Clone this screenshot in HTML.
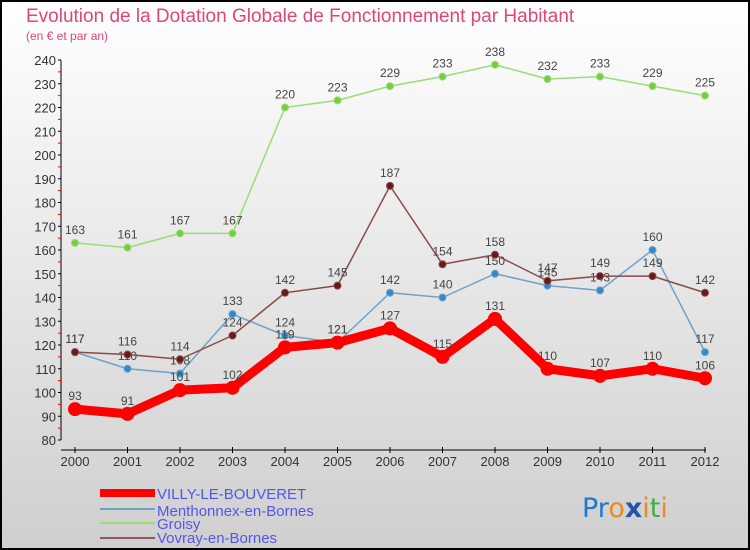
<!DOCTYPE html>
<html><head><meta charset="utf-8"><style>
body{margin:0}
#c{width:750px;height:550px;position:relative;overflow:hidden;font-family:"Liberation Sans",sans-serif}
</style></head><body>
<div id="c">
<svg width="750" height="550" id="svg">
<defs><linearGradient id="bg" x1="0" y1="0" x2="0" y2="1"><stop offset="0" stop-color="#ffffff"/><stop offset="1" stop-color="#cfcfcf"/></linearGradient></defs>
<rect x="1" y="1" width="748" height="548" fill="url(#bg)" stroke="#000" stroke-width="2"/>
<text x="26" y="22" font-size="19" fill="#e0457a">Evolution de la Dotation Globale de Fonctionnement par Habitant</text>
<text x="26" y="40" font-size="12" fill="#e0457a">(en € et par an)</text>
<g id="axes"></g><g id="series"></g>
<g>
<rect x="100" y="489" width="55" height="8" fill="#ff0000"/>
<text x="157" y="499" font-size="15" fill="#5555ee">VILLY-LE-BOUVERET</text>
<line x1="100" y1="509" x2="155" y2="509" stroke="#6ea3c8" stroke-width="2"/>
<text x="157" y="516" font-size="15" fill="#5555ee">Menthonnex-en-Bornes</text>
<line x1="100" y1="523" x2="155" y2="523" stroke="#99dd77" stroke-width="2"/>
<text x="157" y="529" font-size="15" fill="#5555ee">Groisy</text>
<line x1="100" y1="538" x2="155" y2="538" stroke="#8b5a5a" stroke-width="2"/>
<text x="157" y="543" font-size="15" fill="#5555ee">Vovray-en-Bornes</text>
</g>
<text x="582" y="517" font-size="27" font-family="'DejaVu Sans',sans-serif"><tspan fill="#2277cc">Pr</tspan><tspan fill="#ee8822">o</tspan><tspan fill="#2255aa" font-weight="bold">x</tspan><tspan fill="#ee8822">i</tspan><tspan fill="#44aa44">t</tspan><tspan fill="#ee8822">i</tspan></text>
</svg></div>
<script>
const years=[2000,2001,2002,2003,2004,2005,2006,2007,2008,2009,2010,2011,2012];
const villy=[93,91,101,102,119,121,127,115,131,110,107,110,106];
const menthonnex=[117,110,108,133,124,121,142,140,150,145,143,160,117];
const groisy=[163,161,167,167,220,223,229,233,238,232,233,229,225];
const vovray=[117,116,114,124,142,145,187,154,158,147,149,149,142];
const yTicks=[80,90,100,110,120,130,140,150,160,170,180,190,200,210,220,230,240];
const NS="http://www.w3.org/2000/svg";
function X(i){return 75+i*52.5}
function Y(v){return 440-(v-80)*2.375}
function mk(t,a,p){const e=document.createElementNS(NS,t);for(const k in a)e.setAttribute(k,a[k]);p.appendChild(e);return e}
const ax=document.getElementById('axes');
mk('line',{x1:61,y1:60,x2:61,y2:440,stroke:'#000'},ax);
mk('line',{x1:61,y1:450,x2:706,y2:450,stroke:'#000'},ax);
yTicks.forEach(v=>{
 mk('line',{x1:58,y1:Y(v),x2:61,y2:Y(v),stroke:'#000'},ax);
 if(v<240)mk('line',{x1:58,y1:Y(v+5),x2:61,y2:Y(v+5),stroke:'#f00'},ax);
 const t=mk('text',{x:56,y:Y(v)+5,'font-size':13,fill:'#333','text-anchor':'end'},ax);t.textContent=v;
 
 
});
years.forEach((y,i)=>{
 mk('line',{x1:X(i),y1:447,x2:X(i),y2:453,stroke:'#000'},ax);
 const t=mk('text',{x:X(i),y:466,'font-size':13,fill:'#333','text-anchor':'middle'},ax);t.textContent=y;
 
 
});
const sg=document.getElementById('series');
function series(d,name,col,dot,w,r){
 const g=mk('g',{},sg);
 
 
 mk('polyline',{points:d.map((v,i)=>X(i)+','+Y(v)).join(' '),fill:'none',stroke:col,'stroke-width':w,'stroke-linejoin':'round'},g);
 d.forEach((v,i)=>{
  const c=mk('circle',{cx:X(i),cy:Y(v),r:r,fill:dot,stroke:col,'stroke-width':1},g);
  
  
  const t=mk('text',{x:X(i),y:Y(v)-9,'font-size':12,fill:'#444','text-anchor':'middle'},g);t.textContent=v;
  
  
 });
}
series(groisy,'groisy','#99dd77','#77cc44',1.5,3.5);
series(menthonnex,'menthonnex','#6ea3c8','#3388cc',1.5,3.5);
series(vovray,'vovray','#8b4a4a','#661a1a',1.5,3.5);
series(villy,'villy','#ff0000','#ff0000',9,6.5);
</script>
</body></html>
